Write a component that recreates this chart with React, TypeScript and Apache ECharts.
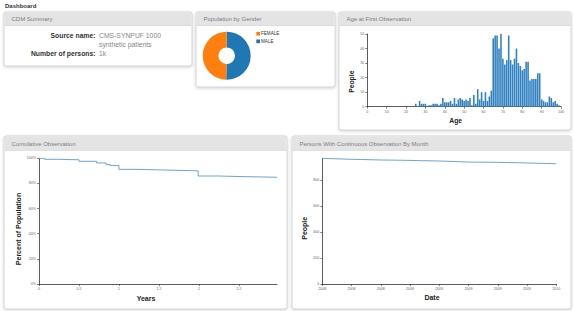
import React, { useEffect, useRef } from 'react';
import * as echarts from 'echarts';

const GENDER_LABELS = ['MALE', 'FEMALE'];
const GENDER_COUNTS = [503, 497];
const GENDER_COLORS = ['#1f77b4', '#ff7f0e'];

const AGES = [25, 27, 28, 29, 30, 32, 33, 34, 35, 36, 37, 38, 39, 40, 41, 42, 43, 44, 45, 46, 47, 48, 49, 50, 51, 52, 53, 54, 55, 56, 57, 58, 59, 60, 61, 62, 63, 64, 65, 66, 67, 68, 69, 70, 71, 72, 73, 74, 75, 76, 77, 78, 79, 80, 81, 82, 83, 84, 85, 86, 87, 88, 89, 90, 91, 92, 93, 94, 95, 96, 97, 98, 99];
const AGE_COUNTS = [2, 4, 2, 2, 2, 1, 1, 2, 2, 2, 1, 2, 6, 3, 3, 3, 4, 2, 6, 2, 5, 6, 5, 4, 5, 4, 6, 1, 8, 2, 12, 5, 10, 4, 10, 4, 7, 11, 47, 49, 49, 40, 50, 33, 29, 32, 49, 32, 29, 33, 40, 30, 28, 25, 26, 31, 31, 18, 19, 19, 19, 23, 23, 5, 4, 3, 3, 7, 6, 3, 4, 2, 1];

const CUM_YEARS = [0, 0.07, 0.25, 0.5, 0.72, 0.84, 0.89, 1.0, 1.25, 1.5, 1.75, 1.99, 2.25, 2.5, 2.75, 2.975];
const CUM_PCT = [100, 99.2, 98.8, 97.6, 96.3, 95.0, 94.2, 91.2, 90.8, 90.4, 90.0, 85.9, 85.5, 85.2, 84.9, 84.6];

const MONTHS = [0, 1, 2, 3, 4, 5, 6, 7, 8, 9, 10, 11, 12, 13, 14, 15, 16, 17, 18, 19, 20, 21, 22, 23, 24];
const MONTH_PEOPLE = [967, 964, 962, 959, 958, 956, 954, 953, 952, 951, 949, 948, 946, 944, 941, 938, 937, 937, 936, 934, 933, 931, 929, 927, 925];

const FONT = '"Liberation Sans", Arial, sans-serif';

function panel(x: number, y: number, w: number, h: number, title: string, hh = 13.5): any[] {
  return [
    {
      type: 'rect', z: -10, silent: true,
      shape: { x, y, width: w, height: h, r: 2 },
      style: { fill: '#ffffff', stroke: '#c9c9c9', lineWidth: 0.8, shadowBlur: 3, shadowColor: 'rgba(0,0,0,0.18)', shadowOffsetY: 1 },
    },
    {
      type: 'rect', z: -9, silent: true,
      shape: { x: x + 0.4, y: y + 0.4, width: w - 0.8, height: hh, r: [2, 2, 0, 0] },
      style: { fill: '#e4e4e4' },
    },
    {
      type: 'rect', z: -9, silent: true,
      shape: { x: x + 0.4, y: y + hh, width: w - 0.8, height: 0.6 },
      style: { fill: '#d2d2d2' },
    },
    {
      type: 'text', z: 10, x: x + 7.5, y: y + hh / 2 + 0.5,
      style: { text: title, fill: '#7d7d7d', font: `6px ${FONT}`, textVerticalAlign: 'middle', textAlign: 'left' },
    },
  ];
}

function txt(text: string, x: number, y: number, opts: any = {}): any {
  return {
    type: 'text', z: 10, x, y, rotation: opts.rotation || 0,
    style: {
      text,
      fill: opts.fill || '#222',
      font: `${opts.weight || 'normal'} ${opts.size || 7}px ${FONT}`,
      textAlign: opts.align || 'left',
      textVerticalAlign: 'middle',
    },
  };
}

const axisCommon = {
  axisLine: { show: true, lineStyle: { color: '#333', width: 0.8 } },
  axisTick: { show: true, length: 2, lineStyle: { color: '#333', width: 0.6 } },
  axisLabel: { fontSize: 3.6, color: '#666', margin: 3, fontFamily: FONT },
  splitLine: { show: false },
};

export default function App() {
  const ref = useRef<HTMLDivElement>(null);
  useEffect(() => {
    if (!ref.current) return;
    const chart = echarts.init(ref.current, undefined, { renderer: 'svg' });

    const graphics: any[] = [
      txt('Dashboard', 5, 6, { weight: 'bold', size: 6, fill: '#333' }),
      ...panel(4, 12, 188, 54, 'CDM Summary'),
      ...panel(196, 12, 139, 75, 'Population by Gender'),
      ...panel(339, 12, 232, 118, 'Age at First Observation'),
      ...panel(4, 136, 283, 173, 'Cumulative Observation', 14),
      ...panel(292, 136, 279, 173, 'Persons With Continuous Observation By Month', 14),
      txt('Source name:', 95.5, 35.2, { weight: 'bold', size: 6.8, fill: '#333', align: 'right' }),
      txt('CMS-SYNPUF 1000', 99, 35.2, { size: 6.8, fill: '#888' }),
      txt('synthetic patients', 99, 44.3, { size: 6.8, fill: '#888' }),
      txt('Number of persons:', 95.5, 53.3, { weight: 'bold', size: 6.8, fill: '#333', align: 'right' }),
      txt('1k', 99, 53.3, { size: 6.8, fill: '#888' }),
      // pie legend
      { type: 'rect', z: 10, shape: { x: 256.3, y: 31.9, width: 3.7, height: 3.7 }, style: { fill: GENDER_COLORS[1] } },
      txt(GENDER_LABELS[1], 261, 33.8, { size: 4.6, fill: '#333' }),
      { type: 'rect', z: 10, shape: { x: 256.3, y: 39.5, width: 3.7, height: 3.7 }, style: { fill: GENDER_COLORS[0] } },
      txt(GENDER_LABELS[0], 261, 41.4, { size: 4.6, fill: '#333' }),
      // axis titles
      txt('People', 351.7, 81.7, { weight: 'bold', size: 6.8, align: 'center', rotation: Math.PI / 2 }),
      txt('Age', 455.7, 120, { weight: 'bold', size: 6.8, align: 'center' }),
      txt('Percent of Population', 18.3, 229, { weight: 'bold', size: 7, align: 'center', rotation: Math.PI / 2 }),
      txt('Years', 146, 298, { weight: 'bold', size: 7, align: 'center' }),
      txt('People', 304, 228.3, { weight: 'bold', size: 7, align: 'center', rotation: Math.PI / 2 }),
      txt('Date', 432, 297.7, { weight: 'bold', size: 7, align: 'center' }),
    ];

    chart.setOption({
      animation: false,
      backgroundColor: '#ffffff',
      graphic: { elements: graphics },
      grid: [
        { left: 367.3, right: 574 - 561, top: 34, height: 72.7 },
        { left: 39, right: 574 - 277, top: 158.3, height: 125.7 },
        { left: 322.3, right: 574 - 556.3, top: 158.3, height: 125.7 },
      ],
      xAxis: [
        { ...axisCommon, type: 'value', gridIndex: 0, min: 0, max: 100, interval: 10 },
        { ...axisCommon, type: 'value', gridIndex: 1, min: 0, max: 2.975, interval: 0.5, axisLabel: { ...axisCommon.axisLabel, showMaxLabel: false } },
        {
          ...axisCommon, type: 'value', gridIndex: 2, min: 0, max: 24, interval: 3,
          axisLabel: { ...axisCommon.axisLabel, formatter: (v: number) => String(2008 + Math.floor(v / 12)) },
        },
      ],
      yAxis: [
        { ...axisCommon, type: 'value', gridIndex: 0, min: 0, max: 50, interval: 10 },
        { ...axisCommon, type: 'value', gridIndex: 1, min: 0, max: 100, interval: 20, axisLabel: { ...axisCommon.axisLabel, formatter: '{value}%' } },
        { ...axisCommon, type: 'value', gridIndex: 2, min: 0, max: 967, interval: 200, axisLabel: { ...axisCommon.axisLabel, showMaxLabel: false } },
      ],
      series: [
        {
          type: 'pie', center: [226.7, 55.7], radius: [8.3, 24], startAngle: 90, clockwise: true,
          label: { show: false }, labelLine: { show: false }, silent: true,
          itemStyle: { borderWidth: 0 },
          data: GENDER_LABELS.map((n, i) => ({ name: n, value: GENDER_COUNTS[i], itemStyle: { color: GENDER_COLORS[i] } })),
        },
        {
          type: 'bar', xAxisIndex: 0, yAxisIndex: 0, barWidth: 1.6,
          itemStyle: { color: '#3282c2' },
          data: AGES.map((a, i) => [a, AGE_COUNTS[i]]),
        },
        {
          type: 'line', xAxisIndex: 1, yAxisIndex: 1, step: 'end', symbol: 'none',
          lineStyle: { color: '#5b9bd0', width: 0.9 },
          data: CUM_YEARS.map((y, i) => [y, CUM_PCT[i]]),
        },
        {
          type: 'line', xAxisIndex: 2, yAxisIndex: 2, symbol: 'none',
          lineStyle: { color: '#5b9bd0', width: 0.9 },
          data: MONTHS.map((m, i) => [m, MONTH_PEOPLE[i]]),
        },
      ],
    });
    return () => chart.dispose();
  }, []);
  return <div ref={ref} style={{ position: 'fixed', left: 0, top: 0, width: 574, height: 311 }} />;
}
